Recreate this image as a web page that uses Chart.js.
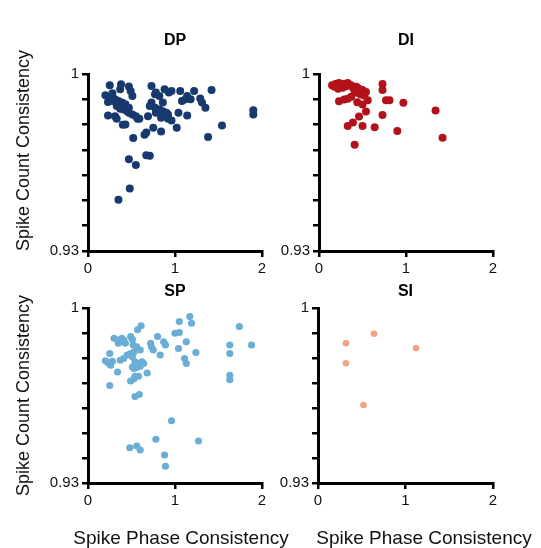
<!DOCTYPE html>
<html>
<head>
<meta charset="utf-8">
<script src="https://cdn.jsdelivr.net/npm/chart.js@4.4.1/dist/chart.umd.min.js"></script>
<style>
  body { margin: 0; background: #fff; width: 541px; height: 548px; overflow: hidden; position: relative; }
  canvas { position: absolute; }
  .xtitle { position: absolute; top: 527px; width: 260px; line-height: 22px; text-align: center;
            font-family: 'Liberation Sans', Arial, sans-serif; font-size: 19px; color: #111; }
</style>
</head>
<body>
<canvas id="dp" width="270" height="280" style="left:0;top:0"></canvas>
<canvas id="di" width="271" height="280" style="left:270px;top:0"></canvas>
<canvas id="sp" width="270" height="268" style="left:0;top:280px"></canvas>
<canvas id="si" width="271" height="268" style="left:270px;top:280px"></canvas>
<div class="xtitle" style="left:51px">Spike Phase Consistency</div>
<div class="xtitle" style="left:294px">Spike Phase Consistency</div>
<script>
var xTicks = [0, 1, 2];
var yLabels = { '1': '1', '0.93': '0.93' };

var dpPhase = [0.25,0.38,0.47,0.49,0.51,0.20,0.28,0.23,0.31,0.35,
  0.39,0.43,0.33,0.37,0.41,0.45,0.47,0.51,0.55,0.59,
  0.23,0.31,0.33,0.40,0.43,0.73,0.77,0.78,0.82,0.88,
  0.93,0.96,0.73,0.71,0.77,0.82,0.86,0.90,0.84,0.92,
  0.96,1.06,1.08,1.12,1.14,1.18,1.22,1.29,1.31,1.35,
  1.42,1.04,1.14,1.02,0.84,0.75,0.67,0.65,0.52,1.38,
  1.54,1.90,1.90,0.71,0.67,0.47,0.55,0.48,0.35,0.86,
  0.78,0.69,0.47,0.26,0.28,0.57,0.37,0.92];
var dpCount = [0.9956,0.9959,0.9951,0.9933,0.9913,0.9916,0.9924,0.9889,0.9900,0.9893,
  0.9887,0.9880,0.9873,0.9863,0.9860,0.9853,0.9847,0.9840,0.9833,0.9823,
  0.9836,0.9833,0.9823,0.9799,0.9800,0.9953,0.9920,0.9927,0.9913,0.9940,
  0.9927,0.9933,0.9887,0.9873,0.9867,0.9860,0.9853,0.9847,0.9827,0.9823,
  0.9816,0.9933,0.9893,0.9900,0.9913,0.9900,0.9933,0.9903,0.9887,0.9867,
  0.9937,0.9847,0.9836,0.9787,0.9773,0.9787,0.9769,0.9760,0.9747,0.9751,
  0.9796,0.9857,0.9840,0.9677,0.9679,0.9663,0.9640,0.9547,0.9503,0.9887,
  0.9847,0.9833,0.9867,0.9907,0.9893,0.9823,0.9940,0.9840];

var diPhase = [0.15,0.19,0.21,0.23,0.25,0.27,0.22,0.29,0.33,0.37,
  0.39,0.43,0.46,0.50,0.54,0.41,0.44,0.48,0.52,0.73,
  0.73,0.23,0.29,0.33,0.37,0.44,0.50,0.56,0.54,0.77,
  0.81,0.97,1.34,0.73,0.46,0.39,0.33,0.50,0.64,0.90,
  1.42,0.41,0.18,0.27,0.31];
var diCount = [0.9956,0.9960,0.9953,0.9964,0.9956,0.9946,0.9942,0.9960,0.9964,0.9956,
  0.9946,0.9950,0.9942,0.9937,0.9929,0.9933,0.9926,0.9919,0.9915,0.9960,
  0.9937,0.9892,0.9899,0.9902,0.9910,0.9888,0.9879,0.9896,0.9852,0.9896,
  0.9896,0.9886,0.9856,0.9838,0.9832,0.9808,0.9794,0.9794,0.9789,0.9775,
  0.9748,0.9720,0.9950,0.9958,0.9952];

var spPhase = [0.20,0.23,0.26,0.28,0.25,0.34,0.25,0.37,0.41,0.45,
  0.49,0.53,0.51,0.54,0.58,0.62,0.64,0.68,0.51,0.53,
  0.56,0.60,0.54,0.58,0.49,0.53,0.54,0.59,0.30,0.34,
  0.35,0.37,0.39,0.41,0.43,0.49,0.51,0.52,0.56,0.60,
  0.57,0.61,0.72,0.73,0.75,0.80,0.83,0.87,0.89,1.00,
  1.05,1.05,1.04,1.11,1.13,1.13,1.17,1.19,1.24,1.63,
  1.63,1.63,1.63,1.74,1.88,0.96,0.78,0.48,0.56,0.60,
  0.88,0.89,1.27];
var spCount = [0.9789,0.9781,0.9771,0.9787,0.9818,0.9744,0.9690,0.9791,0.9798,0.9812,
  0.9818,0.9825,0.9805,0.9785,0.9778,0.9785,0.9778,0.9740,0.9764,0.9758,
  0.9762,0.9767,0.9727,0.9727,0.9708,0.9717,0.9646,0.9654,0.9879,0.9872,
  0.9859,0.9865,0.9879,0.9872,0.9859,0.9886,0.9875,0.9852,0.9845,0.9832,
  0.9913,0.9929,0.9859,0.9845,0.9832,0.9886,0.9812,0.9865,0.9852,0.9899,
  0.9902,0.9946,0.9838,0.9798,0.9778,0.9865,0.9966,0.9939,0.9822,0.9852,
  0.9818,0.9731,0.9713,0.9926,0.9852,0.9549,0.9475,0.9441,0.9448,0.9432,
  0.9412,0.9367,0.9468];

var siPhase = [0.32, 0.32, 0.64, 1.12, 0.52];
var siCount = [0.9859, 0.9779, 0.9897, 0.9839, 0.9612];

Chart.defaults.font.family = "'Liberation Sans', Arial, sans-serif";
Chart.defaults.color = '#111';

function makePanel(id, name, phase, count, color, radius, box) {
  var points = phase.map(function(p, i) { return { x: p, y: count[i] }; });
  var ctx = document.getElementById(id).getContext('2d');
  return new Chart(ctx, {
    type: 'scatter',
    data: {
      datasets: [{
        label: name,
        data: points,
        backgroundColor: color,
        borderWidth: 0,
        pointRadius: radius,
        pointHoverRadius: radius
      }]
    },
    options: {
      responsive: false,
      animation: false,
      layout: { padding: { left: 0, right: box.right, top: 0, bottom: 0 } },
      plugins: {
        legend: { display: false },
        tooltip: { enabled: false },
        title: {
          display: true,
          text: name,
          fullSize: false,
          color: '#000',
          font: { size: 16, weight: 'bold' },
          padding: { top: box.titleTop, bottom: box.titleBottom }
        }
      },
      scales: {
        x: {
          type: 'linear',
          min: 0,
          max: 2,
          afterFit: function(scale) { scale.height = box.xHeight; },
          afterBuildTicks: function(scale) {
            scale.ticks = xTicks.map(function(v) { return { value: v }; });
          },
          ticks: { font: { size: 15 }, padding: 3, maxRotation: 0 },
          grid: { drawOnChartArea: false, drawTicks: true, tickLength: 6, color: '#000', lineWidth: 2.5 },
          border: { display: true, color: '#000', width: 3 }
        },
        y: {
          type: 'linear',
          min: 0.93,
          max: 1,
          afterFit: function(scale) { scale.width = box.yWidth; },
          ticks: {
            stepSize: 0.01,
            font: { size: 15 },
            padding: 3,
            callback: function(v) {
              var key = String(Math.round(v * 100) / 100);
              return yLabels[key] || '';
            }
          },
          grid: { drawOnChartArea: false, drawTicks: true, tickLength: 6, color: '#000', lineWidth: 2.5 },
          border: { display: true, color: '#000', width: 3 },
          title: {
            display: box.yTitle,
            text: 'Spike Count Consistency',
            align: box.yAlign,
            color: '#111',
            font: { size: 18 },
            padding: { top: 13, bottom: 0 }
          }
        }
      }
    }
  });
}

makePanel('dp', 'DP', dpPhase, dpCount, '#17396e', 4,
  { right: 8, yWidth: 88, xHeight: 29, titleTop: 31, titleBottom: 23.8, yTitle: true, yAlign: 'start' });
makePanel('di', 'DI', diPhase, diCount, '#b3121b', 4,
  { right: 48, yWidth: 49, xHeight: 29, titleTop: 31, titleBottom: 23.8, yTitle: false, yAlign: 'center' });
makePanel('sp', 'SP', spPhase, spCount, '#6aaed6', 3.6,
  { right: 8, yWidth: 88, xHeight: 65, titleTop: 2.4, titleBottom: 6.4, yTitle: true, yAlign: 'center' });
makePanel('si', 'SI', siPhase, siCount, '#f4a185', 3.3,
  { right: 48, yWidth: 48, xHeight: 65, titleTop: 2.4, titleBottom: 6.4, yTitle: false, yAlign: 'center' });
</script>
</body>
</html>
